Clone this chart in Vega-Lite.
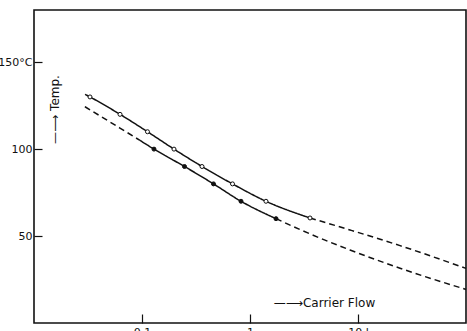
{
  "$schema": "https://vega.github.io/schema/vega-lite/v6.json",
  "width": 432,
  "height": 313,
  "autosize": {"type": "none"},
  "padding": {"left": 34, "top": 10, "right": 1, "bottom": 8},
  "background": "white",
  "config": {
    "view": {"stroke": "#111", "strokeWidth": 1.6},
    "font": "DejaVu Sans",
    "axis": {"grid": false, "domain": false, "tickColor": "#111", "tickWidth": 1.2, "labelColor": "#111", "titleColor": "#111", "labelFont": "DejaVu Sans", "titleFont": "DejaVu Sans", "titleFontWeight": "normal"}
  },
  "datasets": {
    "curves": [
      {"curve": "a1", "style": "solid", "flow": 0.0297, "temp": 131.5},
      {"curve": "a1", "style": "solid", "flow": 0.033, "temp": 130},
      {"curve": "a1", "style": "solid", "flow": 0.0626, "temp": 120},
      {"curve": "a1", "style": "solid", "flow": 0.1124, "temp": 110},
      {"curve": "a1", "style": "solid", "flow": 0.1978, "temp": 100},
      {"curve": "a1", "style": "solid", "flow": 0.3594, "temp": 90},
      {"curve": "a1", "style": "solid", "flow": 0.6887, "temp": 80},
      {"curve": "a1", "style": "solid", "flow": 1.406, "temp": 70},
      {"curve": "a1", "style": "solid", "flow": 3.594, "temp": 60.4},
      {"curve": "a2", "style": "dashed", "flow": 3.594, "temp": 60.4},
      {"curve": "a2", "style": "dashed", "flow": 8.43, "temp": 53.5},
      {"curve": "a2", "style": "dashed", "flow": 24.5, "temp": 44.5},
      {"curve": "a2", "style": "dashed", "flow": 100, "temp": 31.4},
      {"curve": "b1", "style": "dashed", "flow": 0.0296, "temp": 124.4},
      {"curve": "b1", "style": "dashed", "flow": 0.0625, "temp": 112.1},
      {"curve": "b1", "style": "dashed", "flow": 0.0958, "temp": 105},
      {"curve": "b2", "style": "solid", "flow": 0.0958, "temp": 105},
      {"curve": "b2", "style": "solid", "flow": 0.1291, "temp": 100},
      {"curve": "b2", "style": "solid", "flow": 0.2474, "temp": 90},
      {"curve": "b2", "style": "solid", "flow": 0.4592, "temp": 80},
      {"curve": "b2", "style": "solid", "flow": 0.8255, "temp": 70},
      {"curve": "b2", "style": "solid", "flow": 1.741, "temp": 60},
      {"curve": "b3", "style": "dashed", "flow": 1.741, "temp": 60},
      {"curve": "b3", "style": "dashed", "flow": 3.01, "temp": 53.3},
      {"curve": "b3", "style": "dashed", "flow": 8.43, "temp": 42},
      {"curve": "b3", "style": "dashed", "flow": 24.5, "temp": 31.5},
      {"curve": "b3", "style": "dashed", "flow": 100, "temp": 19.3}
    ],
    "markers": [
      {"series": "upper", "flow": 0.033, "temp": 130},
      {"series": "upper", "flow": 0.0626, "temp": 120},
      {"series": "upper", "flow": 0.1124, "temp": 110},
      {"series": "upper", "flow": 0.1978, "temp": 100},
      {"series": "upper", "flow": 0.3594, "temp": 90},
      {"series": "upper", "flow": 0.6887, "temp": 80},
      {"series": "upper", "flow": 1.406, "temp": 70},
      {"series": "upper", "flow": 3.594, "temp": 60.4},
      {"series": "lower", "flow": 0.1291, "temp": 100},
      {"series": "lower", "flow": 0.2474, "temp": 90},
      {"series": "lower", "flow": 0.4592, "temp": 80},
      {"series": "lower", "flow": 0.8255, "temp": 70},
      {"series": "lower", "flow": 1.741, "temp": 60}
    ]
  },
  "encoding": {
    "x": {
      "field": "flow", "type": "quantitative",
      "scale": {"type": "log", "domain": [0.01, 100], "nice": false},
      "axis": {
        "values": [0.1, 1, 10],
        "labelExpr": "datum.value == 10 ? '10 l' : datum.value == 1 ? '1' : '0.1'",
        "tickSize": -9, "labelPadding": 12, "labelFontSize": 11, "labelFlush": false,
        "title": "—⟶Carrier Flow", "titleFontSize": 12, "titleX": 290, "titleY": -21, "titleBaseline": "middle", "titleAnchor": null, "titleAlign": "center"
      }
    },
    "y": {
      "field": "temp", "type": "quantitative",
      "scale": {"domain": [0, 180], "nice": false, "zero": false},
      "axis": {
        "values": [50, 100, 150],
        "labelExpr": "datum.value == 150 ? '150°C' : datum.label",
        "tickSize": -8, "labelPadding": 10, "labelFontSize": 11,
        "title": "—⟶ Temp.", "titleFontSize": 12, "titleAngle": 270, "titleX": 20, "titleY": 99, "titleBaseline": "middle", "titleAlign": "center"
      }
    }
  },
  "layer": [
    {
      "data": {"name": "curves"},
      "mark": {"type": "line", "interpolate": "monotone", "color": "#111", "strokeWidth": 1.5},
      "encoding": {
        "detail": {"field": "curve"},
        "strokeDash": {"field": "style", "type": "nominal", "scale": {"domain": ["solid", "dashed"], "range": [[1, 0], [6, 4]]}, "legend": null}
      }
    },
    {
      "data": {"name": "markers"},
      "mark": {"type": "point", "filled": true, "stroke": "#111", "strokeWidth": 1, "size": 16, "opacity": 1},
      "encoding": {
        "fill": {"field": "series", "type": "nominal", "scale": {"domain": ["upper", "lower"], "range": ["white", "#111"]}, "legend": null}
      }
    }
  ]
}
